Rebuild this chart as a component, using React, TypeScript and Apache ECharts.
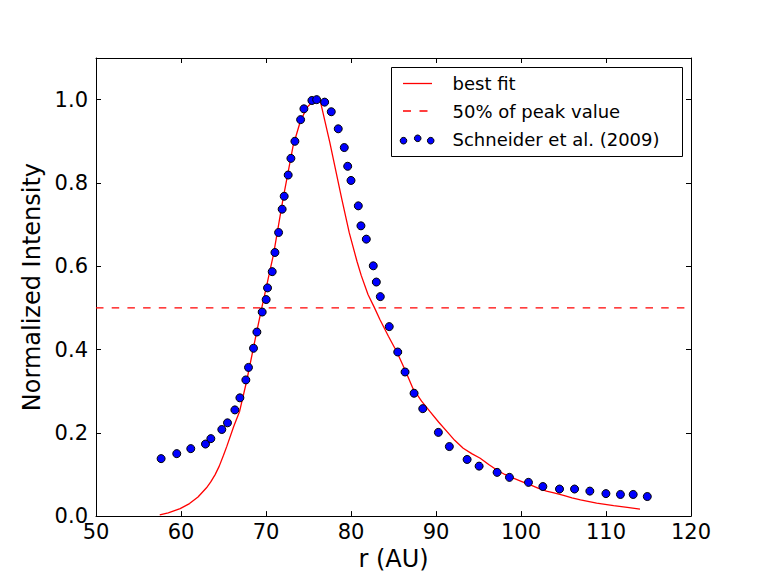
import React, { useEffect, useRef } from "react";
import * as echarts from "echarts";

const obsR = [57.66, 59.5, 61.15, 62.88, 63.51, 64.8, 65.47, 66.34, 66.93, 67.63, 67.94, 68.53, 68.93, 69.55, 70.02, 70.18, 70.73, 71.05, 71.48, 71.9, 72.14, 72.61, 72.93, 73.4, 74.07, 74.46, 75.4, 75.96, 76.9, 77.68, 78.5, 79.21, 79.61, 80.0, 80.86, 81.17, 81.8, 82.62, 82.98, 83.45, 84.5, 85.5, 86.36, 87.42, 88.44, 90.28, 91.57, 93.66, 95.07, 97.19, 98.64, 100.88, 102.57, 104.53, 106.3, 108.1, 109.99, 111.7, 113.2, 114.86];
const obsI = [0.138, 0.15, 0.162, 0.173, 0.186, 0.208, 0.224, 0.255, 0.284, 0.327, 0.357, 0.403, 0.442, 0.49, 0.52, 0.548, 0.587, 0.633, 0.681, 0.737, 0.768, 0.819, 0.859, 0.9, 0.952, 0.978, 0.998, 1.0, 0.994, 0.971, 0.93, 0.885, 0.84, 0.806, 0.745, 0.697, 0.665, 0.601, 0.562, 0.527, 0.455, 0.394, 0.346, 0.295, 0.258, 0.201, 0.167, 0.136, 0.12, 0.105, 0.093, 0.081, 0.071, 0.065, 0.065, 0.06, 0.054, 0.052, 0.052, 0.047];

const fitR = [57.5, 58.5, 59.9, 61.0, 62.0, 63.0, 63.5, 64.0, 64.5, 65.0, 65.4, 66.2, 66.9, 67.7, 68.9, 69.5, 70.0, 70.9, 72.0, 73.2, 74.0, 74.8, 75.6, 76.35, 77.5, 78.9, 79.8, 80.7, 81.2, 82.0, 82.7, 83.4, 84.4, 85.4, 86.4, 87.3, 88.3, 89.3, 90.3, 91.3, 92.2, 93.2, 94.2, 95.2, 96.2, 97.2, 98.1, 99.1, 100.1, 101.1, 102.0, 103.0, 104.0, 105.0, 106.0, 107.0, 108.9, 110.9, 112.5, 114.0];
const fitI = [0.003, 0.008, 0.018, 0.03, 0.046, 0.068, 0.082, 0.099, 0.12, 0.146, 0.168, 0.215, 0.252, 0.322, 0.442, 0.5, 0.546, 0.63, 0.761, 0.89, 0.945, 0.981, 0.997, 1.0, 0.898, 0.763, 0.68, 0.612, 0.578, 0.532, 0.503, 0.472, 0.432, 0.394, 0.349, 0.306, 0.276, 0.251, 0.226, 0.203, 0.182, 0.163, 0.15, 0.139, 0.124, 0.11, 0.1, 0.091, 0.083, 0.075, 0.067, 0.06, 0.055, 0.05, 0.044, 0.039, 0.031, 0.025, 0.021, 0.017];

const halfPeakR = [50, 120];
const halfPeakI = [0.5, 0.5];

const legendLabels = ["best fit", "50% of peak value", "Schneider et al. (2009)"];

const FONT = "DejaVu Sans";

export default function App() {
  const ref = useRef<HTMLDivElement>(null);
  useEffect(() => {
    if (!ref.current) return;
    const chart = echarts.init(ref.current, null, { renderer: "svg" });
    const tickStyle = { inside: true, length: 5, lineStyle: { color: "#000", width: 1 } };
    const lineStyleAxis = { show: true, onZero: false, lineStyle: { color: "#000", width: 1 } };
    const txt = (x: number, y: number, t: string) => ({
      type: "text",
      x,
      y,
      z: 101,
      style: { text: t, fontFamily: FONT, fontSize: 18, fill: "#000", verticalAlign: "middle", align: "left" },
    });
    chart.setOption({
      animation: false,
      backgroundColor: "#fff",
      grid: { left: 96, right: 77, top: 58, bottom: 58, containLabel: false },
      xAxis: [
        {
          type: "value",
          min: 50,
          max: 120,
          interval: 10,
          position: "bottom",
          name: "r (AU)",
          nameLocation: "middle",
          nameGap: 29,
          nameTextStyle: { fontFamily: FONT, fontSize: 24, color: "#000" },
          axisLine: lineStyleAxis,
          axisTick: tickStyle,
          axisLabel: { fontFamily: FONT, fontSize: 21, color: "#000", margin: 5 },
          splitLine: { show: false },
        },
        {
          type: "value",
          min: 50,
          max: 120,
          interval: 10,
          position: "top",
          axisLine: lineStyleAxis,
          axisTick: tickStyle,
          axisLabel: { show: false },
          splitLine: { show: false },
        },
      ],
      yAxis: [
        {
          type: "value",
          min: 0,
          max: 1.1,
          interval: 0.2,
          position: "left",
          name: "Normalized Intensity",
          nameLocation: "middle",
          nameGap: 50,
          nameTextStyle: { fontFamily: FONT, fontSize: 24, color: "#000" },
          axisLine: lineStyleAxis,
          axisTick: tickStyle,
          axisLabel: {
            fontFamily: FONT,
            fontSize: 21,
            color: "#000",
            margin: 8,
            showMaxLabel: false,
            formatter: (v: number) => v.toFixed(1),
          },
          splitLine: { show: false },
        },
        {
          type: "value",
          min: 0,
          max: 1.1,
          interval: 0.2,
          position: "right",
          axisLine: lineStyleAxis,
          axisTick: tickStyle,
          axisLabel: { show: false },
          splitLine: { show: false },
        },
      ],
      series: [
        {
          name: legendLabels[0],
          type: "line",
          data: fitR.map((r, i) => [r, fitI[i]]),
          showSymbol: false,
          symbol: "none",
          lineStyle: { color: "#ff0000", width: 1.3 },
          z: 3,
        },
        {
          name: legendLabels[1],
          type: "line",
          data: halfPeakR.map((r, i) => [r, halfPeakI[i]]),
          symbol: "none",
          lineStyle: { color: "#ff0000", width: 1.3, type: [7.5, 8.2] },
          z: 2,
        },
        {
          name: legendLabels[2],
          type: "scatter",
          data: obsR.map((r, i) => [r, obsI[i]]),
          symbol: "circle",
          symbolSize: 8,
          itemStyle: { color: "#0000ff", borderColor: "#000", borderWidth: 1, opacity: 1 },
          z: 4,
        },
      ],
      graphic: [
        {
          type: "rect",
          z: 100,
          shape: { x: 391.5, y: 67.5, width: 291, height: 89 },
          style: { fill: "#fff", stroke: "#000", lineWidth: 1 },
        },
        {
          type: "line",
          z: 101,
          shape: { x1: 403, y1: 83.5, x2: 432, y2: 83.5 },
          style: { stroke: "#ff0000", lineWidth: 1.3 },
        },
        {
          type: "line",
          z: 101,
          shape: { x1: 403, y1: 111, x2: 432, y2: 111 },
          style: { stroke: "#ff0000", lineWidth: 1.3, lineDash: [8, 8.5] },
        },
        {
          type: "circle",
          z: 101,
          shape: { cx: 403.5, cy: 140.7, r: 3.3 },
          style: { fill: "#0000ff", stroke: "#000", lineWidth: 1 },
        },
        {
          type: "circle",
          z: 101,
          shape: { cx: 417.7, cy: 138.3, r: 3.3 },
          style: { fill: "#0000ff", stroke: "#000", lineWidth: 1 },
        },
        {
          type: "circle",
          z: 101,
          shape: { cx: 430.7, cy: 140.7, r: 3.3 },
          style: { fill: "#0000ff", stroke: "#000", lineWidth: 1 },
        },
        txt(452.5, 83.5, legendLabels[0]),
        txt(452.5, 111, legendLabels[1]),
        txt(452.5, 139.5, legendLabels[2]),
      ],
    });
    return () => chart.dispose();
  }, []);
  return (
    <div
      ref={ref}
      style={{ position: "fixed", left: 0, top: 0, width: 768, height: 576, background: "#fff" }}
    />
  );
}
